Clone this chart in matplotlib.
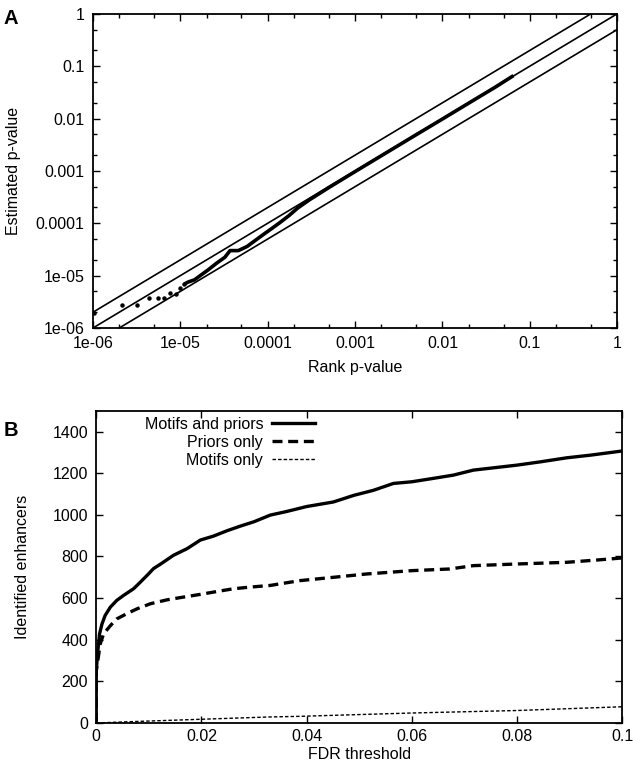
import matplotlib
matplotlib.use("Agg")
import matplotlib.pyplot as plt
from matplotlib.ticker import LogLocator, NullFormatter
import numpy as np

plt.rcParams['font.family'] = ['Liberation Sans', 'DejaVu Sans']
plt.rcParams['font.size'] = 11.5

# Panel A: estimated vs rank p-value
rank_p = [1.03e-6, 2.15e-6, 3.2e-6, 4.4e-6, 5.5e-6, 6.5e-6, 7.7e-6, 8.8e-6, 9.9e-6,
          1.11e-5, 1.22e-5, 1.45e-5, 1.73e-5, 2.07e-5, 2.59e-5, 3.23e-5, 3.7e-5,
          4.6e-5, 5.8e-5, 7.2e-5, 9.4e-5, 1.12e-4, 1.4e-4, 1.75e-4, 2.2e-4,
          3e-4, 5e-4, 1e-3, 2e-3, 5e-3, 1e-2, 2e-2, 4e-2, 6.5e-2]
est_p = [1.9e-6, 2.7e-6, 2.7e-6, 3.7e-6, 3.7e-6, 3.8e-6, 4.7e-6, 4.5e-6, 5.7e-6,
         6.9e-6, 7.5e-6, 8.3e-6, 1.03e-5, 1.28e-5, 1.72e-5, 2.24e-5, 3.0e-5,
         3.0e-5, 3.6e-5, 4.7e-5, 6.5e-5, 8.0e-5, 1.05e-4, 1.4e-4, 1.95e-4,
         2.8e-4, 4.8e-4, 9.7e-4, 1.95e-3, 4.9e-3, 9.8e-3, 1.97e-2, 3.95e-2, 6.6e-2]
band_factors = [0.5, 1.0, 2.0]

# Panel B: identified enhancers vs FDR threshold
fdr_mp = [0, 0.00001, 0.00025, 0.00063, 0.0011, 0.0017, 0.0027, 0.0039, 0.0052, 0.0071,
          0.0084, 0.0097, 0.0109, 0.0122, 0.0147, 0.0173, 0.0198, 0.0223, 0.0249,
          0.0274, 0.030, 0.0331, 0.036, 0.040, 0.0451, 0.049, 0.0527, 0.0565, 0.060,
          0.064, 0.0679, 0.0717, 0.0755, 0.080, 0.0845, 0.0894, 0.094, 0.100]
n_mp = [0, 251, 331, 428, 476, 517, 557, 589, 613, 645,
        677, 710, 742, 763, 806, 838, 879, 898, 924,
        946, 967, 999, 1015, 1040, 1062, 1094, 1118, 1151, 1159,
        1175, 1191, 1215, 1226, 1239, 1255, 1274, 1287, 1307]

fdr_p = [0, 0.00001, 0.0003, 0.00076, 0.0014, 0.0027, 0.0039, 0.0058, 0.0078, 0.0103,
         0.0135, 0.0166, 0.0198, 0.023, 0.0261, 0.0293, 0.0331, 0.0387, 0.0451,
         0.0514, 0.060, 0.0672, 0.0717, 0.080, 0.0894, 0.0957, 0.100]
n_p = [0, 250, 299, 380, 428, 468, 500, 525, 549, 573,
       592, 605, 618, 632, 645, 653, 661, 684, 700,
       716, 732, 740, 756, 764, 772, 784, 793]

fdr_m = [0, 0.005, 0.02, 0.033, 0.0387, 0.06, 0.08, 0.1]
n_m = [0, 5, 18, 29, 32, 48, 60, 78]

fig = plt.figure(figsize=(6.33, 7.68), dpi=100)

# ---- Panel A ----
axA = fig.add_axes([0.147, 0.573, 0.828, 0.409])
axA.set_xscale('log')
axA.set_yscale('log')
grid = np.array([1e-7, 10.0])
for f in band_factors:
    axA.plot(grid, f * grid, color='black', lw=1.2)
n_dots = 10
axA.plot(rank_p[:n_dots], est_p[:n_dots], 'o', color='black', ms=2.2)
axA.plot(rank_p[n_dots - 1:], est_p[n_dots - 1:], color='black', lw=2.6,
         solid_capstyle='butt')
axA.set_xlim(1e-6, 1)
axA.set_ylim(1e-6, 1)
decades = [1e-6, 1e-5, 1e-4, 1e-3, 1e-2, 1e-1, 1]
dec_labels = ['1e-06', '1e-05', '0.0001', '0.001', '0.01', '0.1', '1']
axA.set_xticks(decades)
axA.set_xticklabels(dec_labels)
axA.set_yticks(decades)
axA.set_yticklabels(dec_labels)
for axis in (axA.xaxis, axA.yaxis):
    axis.set_minor_locator(LogLocator(base=10, subs=(2.0, 5.0)))
    axis.set_minor_formatter(NullFormatter())
axA.tick_params(which='both', direction='in', top=True, right=True, width=1.0)
axA.tick_params(which='major', length=5, pad=6)
axA.tick_params(which='minor', length=3)
axA.set_xlabel('Rank p-value')
axA.set_ylabel('Estimated p-value')
axA.xaxis.set_label_coords(0.5, -0.103)
axA.yaxis.set_label_coords(-0.138, 0.5)
for s in axA.spines.values():
    s.set_linewidth(1.3)
fig.text(0.006, 0.988, 'A', fontsize=14.5, fontweight='bold', va='top')

# ---- Panel B ----
axB = fig.add_axes([0.152, 0.0586, 0.831, 0.4065])
axB.plot(fdr_mp, n_mp, color='black', lw=2.4, label='Motifs and priors')
axB.plot(fdr_p, n_p, color='black', lw=2.4, dashes=(3, 1.7), label='Priors only')
axB.plot(fdr_m, n_m, color='black', lw=1.0, dashes=(2.5, 1.5), label='Motifs only')
axB.set_xlim(0, 0.1)
axB.set_ylim(0, 1500)
axB.set_xticks([0, 0.02, 0.04, 0.06, 0.08, 0.1])
axB.set_xticklabels(['0', '0.02', '0.04', '0.06', '0.08', '0.1'])
axB.set_yticks(range(0, 1401, 200))
axB.tick_params(direction='in', top=True, right=True, length=5, width=1.0, pad=6)
axB.tick_params(axis='x', pad=4)
axB.set_xlabel('FDR threshold')
axB.set_ylabel('Identified enhancers')
axB.xaxis.set_label_coords(0.5, -0.077)
axB.yaxis.set_label_coords(-0.125, 0.5)
for s in axB.spines.values():
    s.set_linewidth(1.3)
leg = axB.legend(loc='upper right', bbox_to_anchor=(0.416, 0.98), frameon=False,
                 markerfirst=False, handlelength=2.7, handletextpad=0.55,
                 labelspacing=0.18, borderaxespad=0.0, borderpad=0.0)
for t in leg.get_texts():
    t.set_ha('right')
fig.text(0.006, 0.452, 'B', fontsize=14.5, fontweight='bold', va='top')

fig.savefig('out.png', dpi=100)
